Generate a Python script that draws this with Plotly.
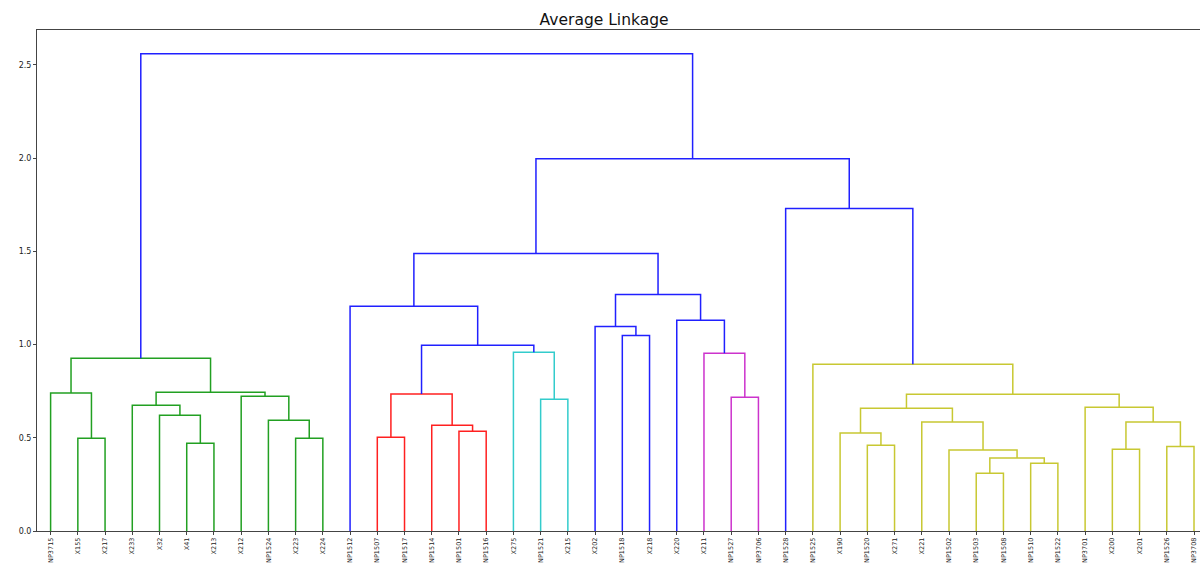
import plotly.graph_objects as go

leaves = ["NP3715", "X155", "X217", "X233", "X32", "X41", "X213", "X212", "NP1524", "X223", "X224",
          "NP1512", "NP1507", "NP1517", "NP1514", "NP1501", "NP1516", "X275", "NP1521", "X215",
          "X202", "NP1518", "X218", "X220", "X211", "NP1527", "NP3706", "NP1528", "NP1525", "X190",
          "NP1520", "X271", "X221", "NP1502", "NP1503", "NP1508", "NP1510", "NP1522", "NP3701",
          "X200", "X201", "NP1526", "NP3708"]

# merges: children are leaf names or earlier merge indices
merge_a = ["X155", "NP3715", "X41", "X32", "X233", "X223", "NP1524", "X212", 4, 1,
           "NP1507", "NP1501", "NP1514", 10, "NP1521", "X275", 13, "NP1512", "NP1518", "X202",
           "NP1527", "X211", "X220", 19, 17,
           "NP1520", "X190", "NP1503", "NP1510", 27, "NP1502", "X221", 26, "X200", "NP1526", 33,
           "NP3701", 32, "NP1525", "NP1528", 24, 9]
merge_b = ["X217", 0, "X213", 2, 3, "X224", 5, 6, 7, 8,
           "NP1517", "NP1516", 11, 12, "X215", 14, 15, 16, "X218", 18,
           "NP3706", 20, 21, 22, 23,
           "X271", 25, "NP1508", "NP1522", 28, 29, 30, 31, "X201", "NP3708", 34,
           35, 36, 37, 38, 39, 40]
merge_h = [0.498, 0.740, 0.471, 0.621, 0.675, 0.498, 0.594, 0.723, 0.744, 0.926,
           0.503, 0.535, 0.567, 0.735, 0.707, 0.958, 0.996, 1.205, 1.049, 1.097,
           0.717, 0.953, 1.130, 1.269, 1.488,
           0.460, 0.525, 0.310, 0.364, 0.391, 0.434, 0.584, 0.658, 0.439, 0.453, 0.584,
           0.664, 0.733, 0.894, 1.729, 1.997, 2.559]
merge_color = ["g"] * 10 + ["r"] * 4 + ["c"] * 2 + ["b"] * 4 + ["m"] * 2 + ["b"] * 3 + \
              ["y"] * 14 + ["b"] * 3

palette = {"g": "#22a022", "r": "#ff2020", "c": "#33cccc", "m": "#cc33cc",
           "y": "#c8c832", "b": "#2020ff"}

leaf_x = {name: 5 + 10 * i for i, name in enumerate(leaves)}
node_x, node_h = [], []


def pos(ref):
    if isinstance(ref, str):
        return leaf_x[ref], 0.0
    return node_x[ref], node_h[ref]


fig = go.Figure()
for a, b, h, c in zip(merge_a, merge_b, merge_h, merge_color):
    xa, ha = pos(a)
    xb, hb = pos(b)
    node_x.append((xa + xb) / 2)
    node_h.append(h)
    fig.add_trace(go.Scatter(x=[xa, xa, xb, xb], y=[ha, h, h, hb], mode="lines",
                             line=dict(color=palette[c], width=1.5),
                             hoverinfo="skip", showlegend=False))

ymax = max(merge_h) * 1.05
fig.update_layout(
    width=1200, height=563,
    margin=dict(l=37, r=0, t=30, b=32),
    plot_bgcolor="white", paper_bgcolor="white",
    font=dict(family="DejaVu Sans", color="#222"),
    title=dict(text="Average Linkage", x=0.5034, xanchor="center", y=0.966, yanchor="middle",
               font=dict(size=15.5, color="#111")),
    xaxis=dict(range=[0, 427.2], tickmode="array", tickvals=[leaf_x[n] for n in leaves],
               ticktext=leaves, tickangle=-90, tickfont=dict(size=6.5, color="#222"),
               showgrid=False, zeroline=False, showline=True, linecolor="#444", linewidth=1,
               mirror=True, ticks="outside", ticklen=3, tickcolor="#444", automargin=False),
    yaxis=dict(range=[0, ymax], tickvals=[0, 0.5, 1.0, 1.5, 2.0, 2.5],
               ticktext=["0.0", "0.5", "1.0", "1.5", "2.0", "2.5"],
               tickfont=dict(size=8, color="#222"), showgrid=False, zeroline=False,
               showline=True, linecolor="#444", linewidth=1, ticks="outside", ticklen=3,
               tickcolor="#444", automargin=False),
)
fig.write_html("out.html", config={"displayModeBar": False},
               post_script="document.body.style.margin='0';document.body.style.overflow='hidden';")
